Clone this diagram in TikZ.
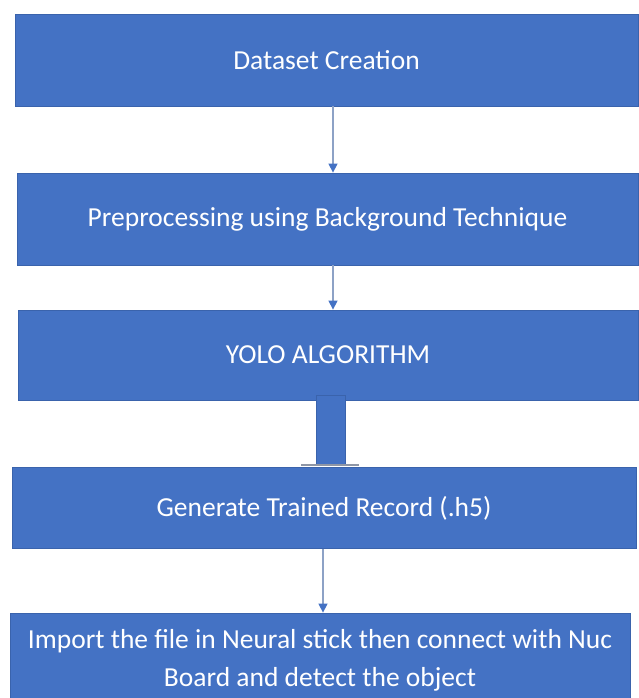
\documentclass[tikz,border=0pt]{standalone}
\usepackage{fontspec}
\setmainfont{Carlito}
\usetikzlibrary{arrows.meta}
\definecolor{boxblue}{HTML}{4472C4}
\definecolor{boxedge}{HTML}{3A63AC}
\definecolor{linegray}{HTML}{8DA2C6}
\definecolor{basegray}{HTML}{8E96A6}
\tikzset{
  stepbox/.style={rectangle, fill=boxblue, draw=boxedge, line width=0.8pt, text=white,
    font=\fontsize{27.5}{38}\selectfont, align=center, inner sep=0pt},
  conn/.style={draw=linegray, line width=1.4pt, -{Triangle[width=9pt,length=9pt,color=boxblue]}},
  barbox/.style={rectangle, fill=boxblue, draw=boxedge, line width=0.8pt, inner sep=0pt},
  baseline/.style={draw=basegray, line width=1.5pt}
}
\begin{document}
\begin{tikzpicture}[x=1pt,y=-1pt]
\useasboundingbox[fill=white] (0,0) rectangle (638,698);
\node[stepbox, minimum width=623, minimum height=92] (b1) at (326.5,60) {Dataset Creation};
\node[stepbox, minimum width=621, minimum height=92] (b2) at (327.5,219) {Preprocessing using Background Technique};
\node[stepbox, minimum width=620, minimum height=90] (b3) at (328,355) {YOLO ALGORITHM};
\node[barbox, minimum width=29, minimum height=70] (bar) at (330.5,430) {};
\coordinate (baseL) at (301,465);
\coordinate (baseR) at (359,465);
\draw[baseline] (baseL) -- (baseR);
\node[stepbox, minimum width=624, minimum height=81] (b4) at (324,508) {Generate Trained Record (.h5)};
\node[stepbox, minimum width=620, minimum height=94] (b5) at (320,660) {Import the file in Neural stick then connect with Nuc\\Board and detect the object};
\coordinate (xa) at (333,0);
\coordinate (xb) at (323,0);
\draw[conn] (b1.south -| xa) -- (b2.north -| xa);
\draw[conn] (b2.south -| xa) -- (b3.north -| xa);
\draw[conn] (b4.south -| xb) -- (b5.north -| xb);
\end{tikzpicture}
\end{document}
